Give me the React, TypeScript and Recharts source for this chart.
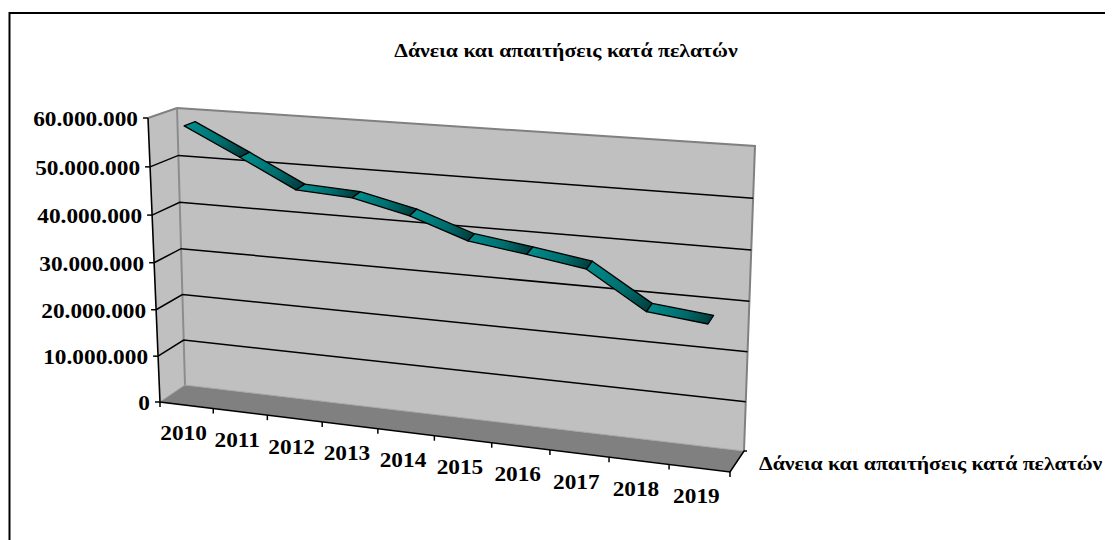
import { CartesianGrid, ComposedChart, Line, XAxis, YAxis } from "recharts";

const years = ["2010", "2011", "2012", "2013", "2014", "2015", "2016", "2017", "2018", "2019"];
const loans = [58200000, 52700000, 47000000, 46400000, 43800000, 39800000, 38200000, 36400000, 29100000, 27900000];
const valueTicks = [0, 10000000, 20000000, 30000000, 40000000, 50000000, 60000000];
const seriesName = "Δάνεια και απαιτήσεις κατά πελατών";

const W = 1113;
const H = 540;
const PLOT = { left: 100, top: 100, width: 900, height: 300 };

const SERIF = "'Liberation Serif', 'Times New Roman', serif";
const STRETCH = 1.11;

type Pt = [number, number];

// unit square -> quad homography, corners given as TL, TR, BR, BL
function quadMap([p0, p1, p2, p3]: Pt[]) {
  const dx1 = p1[0] - p2[0];
  const dx2 = p3[0] - p2[0];
  const sx = p0[0] - p1[0] + p2[0] - p3[0];
  const dy1 = p1[1] - p2[1];
  const dy2 = p3[1] - p2[1];
  const sy = p0[1] - p1[1] + p2[1] - p3[1];
  const den = dx1 * dy2 - dx2 * dy1;
  const g = (sx * dy2 - dx2 * sy) / den;
  const h = (dx1 * sy - sx * dy1) / den;
  const a = p1[0] - p0[0] + g * p1[0];
  const b = p3[0] - p0[0] + h * p3[0];
  const d = p1[1] - p0[1] + g * p1[1];
  const e = p3[1] - p0[1] + h * p3[1];
  return (u: number, v: number): Pt => {
    const w = g * u + h * v + 1;
    return [(a * u + b * v + p0[0]) / w, (d * u + e * v + p0[1]) / w];
  };
}

const frontCorners: Pt[] = [[148, 118], [741, 168], [730, 472], [160, 402]];
const backCorners: Pt[] = [[177, 108], [755, 146], [744, 451], [185, 385]];
const front = quadMap(frontCorners);
const back = quadMap(backCorners);

// z = 0 is the front plane of the box, z = 1 the back wall
function project(u: number, v: number, z: number): Pt {
  const f = front(u, v);
  const b = back(u, v);
  return [f[0] + (b[0] - f[0]) * z, f[1] + (b[1] - f[1]) * z];
}

const toU = (x: number) => (x - PLOT.left) / PLOT.width;
const toV = (y: number) => (y - PLOT.top) / PLOT.height;
const pts = (list: Pt[]) => list.map((p) => p.join(",")).join(" ");

const formatValue = (v: number) => String(v).replace(/\B(?=(\d{3})+$)/g, ".");

function label(x: number, y: number, text: string, anchor: "start" | "middle" | "end", size: number) {
  return (
    <text
      transform={`translate(${x},${y}) scale(${STRETCH},1)`}
      textAnchor={anchor}
      fontFamily={SERIF}
      fontWeight="bold"
      fontSize={size}
      fill="#000"
    >
      {text}
    </text>
  );
}

function ValueTick({ y, payload }: any) {
  const [ex, ey] = front(0, toV(y));
  return (
    <g>
      <line x1={ex - 5} y1={ey} x2={ex} y2={ey} stroke="#000" strokeWidth={1.5} />
      {label(ex - 10, ey + 8, formatValue(payload.value), "end", 21)}
    </g>
  );
}

function YearTick({ x, index }: any) {
  const u = toU(x);
  const [lx, ly] = front(u, 1);
  const mark = (m: number) => {
    const [mx, my] = front(m, 1);
    return <line x1={mx} y1={my} x2={mx} y2={my + 5} stroke="#000" strokeWidth={1.5} />;
  };
  return (
    <g>
      {index === 0 && mark(0)}
      {mark(u + 0.05)}
      {label(lx - 3, ly + 35, years[index], "middle", 21)}
    </g>
  );
}

function GridRow({ x1, y1, x2 }: any) {
  const v = toV(y1);
  if (v < 0.01 || v > 0.99) return <g />;
  const a = front(toU(x1), v);
  const b = back(toU(x1), v);
  const c = back(toU(x2), v);
  return <polyline points={pts([a, b, c])} fill="none" stroke="#000" strokeWidth={1.5} />;
}

const seen: { low: Pt; high: Pt }[] = [];

// each point draws the ribbon piece that joins it to the previous year
function RibbonPiece({ cx, cy, index }: any) {
  const u = toU(cx);
  const v = toV(cy);
  const low = project(u, v, 0.3);
  const high = project(u, v, 0.7);
  seen[index] = { low, high };
  if (index === 0) return <g key={index} />;
  const prev = seen[index - 1];
  const id = `ribbon-${index}`;
  return (
    <g key={index}>
      <defs>
        <linearGradient
          id={id}
          gradientUnits="userSpaceOnUse"
          x1={prev.high[0]}
          y1={prev.high[1]}
          x2={low[0]}
          y2={low[1]}
        >
          <stop offset="0" stopColor="#008a8a" />
          <stop offset="0.55" stopColor="#006e6e" />
          <stop offset="1" stopColor="#004040" />
        </linearGradient>
      </defs>
      <polygon
        points={pts([prev.low, low, high, prev.high])}
        fill={`url(#${id})`}
        stroke="#000"
        strokeWidth={1.3}
        strokeLinejoin="round"
      />
    </g>
  );
}

function Box() {
  const [ftl, , fbr, fbl] = frontCorners;
  const [btl, btr, bbr, bbl] = backCorners;
  return (
    <svg width={W} height={H} style={{ position: "absolute", left: 0, top: 0 }}>
      <rect width={W} height={H} fill="#fff" />
      <text x={12} y={0} fontFamily="'Liberation Sans', Arial, sans-serif" fontWeight="bold" fontSize={20}>
        Διάγραμμα
      </text>
      <polyline points="1113,13 9.5,13 9.5,540" fill="none" stroke="#000" strokeWidth={2} />
      {label(566, 57, seriesName, "middle", 19.6)}
      <polygon points={pts([ftl, btl, bbl, fbl])} fill="#c0c0c0" />
      <polygon points={pts([btl, btr, bbr, bbl])} fill="#c0c0c0" />
      <polygon points={pts([fbl, bbl, bbr, fbr])} fill="#808080" />
      <polyline points={pts([ftl, btl, btr, bbr])} fill="none" stroke="#808080" strokeWidth={2} />
      <line x1={btl[0]} y1={btl[1]} x2={bbl[0]} y2={bbl[1]} stroke="#8c8c8c" strokeWidth={2} />
      <line x1={bbl[0]} y1={bbl[1]} x2={bbr[0]} y2={bbr[1]} stroke="#a8a8a8" strokeWidth={1} />
      <line x1={fbl[0]} y1={fbl[1]} x2={bbl[0]} y2={bbl[1]} stroke="#9a9a9a" strokeWidth={1} />
      <polyline
        points={pts([ftl, fbl, fbr, bbr, [bbr[0] + 3, bbr[1]]])}
        fill="none"
        stroke="#000"
        strokeWidth={1.6}
      />
      {label(759, 470, seriesName, "start", 19.6)}
    </svg>
  );
}

const rows = years.map((year, i) => ({ year, loans: loans[i] }));

export default function App() {
  return (
    <div style={{ position: "relative", width: W, height: H, marginLeft: -8, marginTop: -8, overflow: "hidden" }}>
      <Box />
      <div style={{ position: "absolute", left: 0, top: 0 }}>
        <ComposedChart
          width={W}
          height={H}
          data={rows}
          margin={{
            left: PLOT.left - 1,
            top: PLOT.top,
            right: W - PLOT.left - PLOT.width,
            bottom: H - PLOT.top - PLOT.height - 1,
          }}
        >
          <CartesianGrid vertical={false} horizontal={(p: any) => <GridRow key={p.key} {...p} />} />
          <XAxis
            dataKey="year"
            scale="band"
            height={1}
            interval={0}
            axisLine={false}
            tickLine={false}
            tick={(p: any) => <YearTick {...p} />}
          />
          <YAxis
            width={1}
            domain={[0, 60000000]}
            ticks={valueTicks}
            interval={0}
            axisLine={false}
            tickLine={false}
            tick={(p: any) => <ValueTick {...p} />}
          />
          <Line
            dataKey="loans"
            name={seriesName}
            stroke="none"
            isAnimationActive={false}
            dot={(p: any) => <RibbonPiece key={p.index} {...p} />}
          />
        </ComposedChart>
      </div>
    </div>
  );
}
